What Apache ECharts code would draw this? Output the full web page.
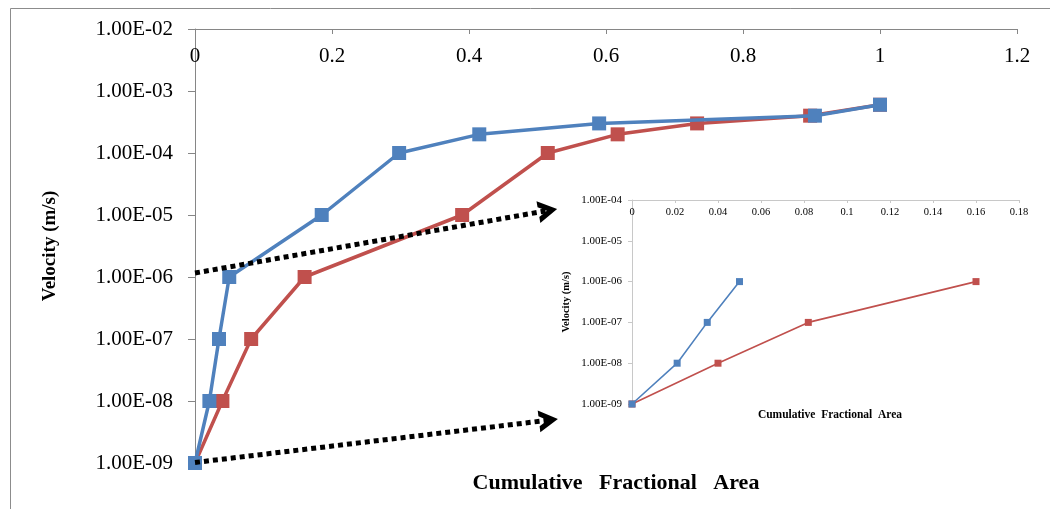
<!DOCTYPE html>
<html>
<head>
<meta charset="utf-8">
<script src="https://cdn.jsdelivr.net/npm/echarts@6/dist/echarts.min.js"></script>
<style>
  html, body { margin: 0; padding: 0; background: #ffffff; }
  #chart { width: 1050px; height: 509px; }
</style>
</head>
<body>
<div id="chart"></div>
<script>
// Cumulative fractional area reached at each velocity threshold (two cases)
const blueArea     = [0, 0.021, 0.035, 0.05, 0.185, 0.298, 0.415, 0.59, 0.905, 1.0];
const blueVelocity = [1e-9, 1e-8, 1e-7, 1e-6, 1e-5, 1e-4, 2e-4, 3e-4, 4e-4, 6e-4];

const redArea      = [0, 0.04, 0.082, 0.16, 0.39, 0.515, 0.617, 0.733, 0.898, 1.0];
const redVelocity  = [1e-9, 1e-8, 1e-7, 1e-6, 1e-5, 1e-4, 2e-4, 3e-4, 4e-4, 6e-4];

// Low-velocity detail (inset): first four points of each case
const insetBlueArea = [0, 0.021, 0.035, 0.05];
const insetBlueVel  = [1e-9, 1e-8, 1e-7, 1e-6];
const insetRedArea  = [0, 0.04, 0.082, 0.16];
const insetRedVel   = [1e-9, 1e-8, 1e-7, 1e-6];

// Velocity tick labels, from 1e-9 upward
const velocityTicks = ['1.00E-09', '1.00E-08', '1.00E-07', '1.00E-06',
                       '1.00E-05', '1.00E-04', '1.00E-03', '1.00E-02'];

// Dotted pointers from the main plot to the inset: [start, end] in data units
const pointerArrows = [
  [[0, 1.16e-6], [0.515, 1.18e-5]],
  [[0, 1.02e-9], [0.516, 4.9e-9]]
];

const xTitle = 'Cumulative   Fractional   Area';
const insetXTitle = 'Cumulative  Fractional  Area';
const yTitle = 'Velocity (m/s)';

const BLUE = '#4F81BD';
const RED = '#C0504D';
const SERIF = '"Liberation Serif", "Times New Roman", serif';

const pair = (xs, ys) => xs.map((x, i) => [x, ys[i]]);
const velLabel = v => velocityTicks[Math.round(Math.log10(v)) + 9];

// Open chevron arrow head pointing "up" (rotated along the line by ECharts)
const chevron = 'path://M0,19 L11,0 L22,19 L16,19 L11,10.4 L6,19 Z';

const chart = echarts.init(document.getElementById('chart'));

chart.setOption({
  backgroundColor: '#ffffff',
  animation: false,
  title: [
    {
      text: xTitle,
      left: 611, top: 467,
      textAlign: 'center',
      textStyle: { fontFamily: SERIF, fontWeight: 'bold', fontSize: 22, color: '#000' }
    },
    {
      text: insetXTitle,
      left: 825, top: 404,
      textAlign: 'center',
      textStyle: { fontFamily: SERIF, fontWeight: 'bold', fontSize: 11.5, color: '#000' }
    }
  ],
  graphic: [
    {
      type: 'rect',
      shape: { x: 10.5, y: 8.5, width: 1200, height: 600 },
      style: { fill: null, stroke: '#8c8c8c', lineWidth: 1 },
      silent: true,
      z: -1
    }
  ],
  grid: [
    { left: 195, top: 29, right: 33, bottom: 46, outerBoundsMode: 'none' },
    { left: 632, top: 200, right: 31, bottom: 105, outerBoundsMode: 'none' }
  ],
  xAxis: [
    {
      gridIndex: 0, type: 'value', position: 'top',
      min: 0, max: 1.2, interval: 0.2,
      axisLine: { onZero: false, lineStyle: { color: '#868686', width: 1 } },
      axisTick: { inside: true, length: 5, lineStyle: { color: '#868686' } },
      axisLabel: { inside: true, margin: 17, fontFamily: SERIF, fontSize: 21, color: '#000' },
      splitLine: { show: false }
    },
    {
      gridIndex: 1, type: 'value', position: 'top',
      min: 0, max: 0.18, interval: 0.02,
      axisLine: { onZero: false, lineStyle: { color: '#c8c8c8', width: 1 } },
      axisTick: { inside: true, length: 3, lineStyle: { color: '#c8c8c8' } },
      axisLabel: { inside: true, margin: 7, fontFamily: SERIF, fontSize: 10.5, color: '#000' },
      splitLine: { show: false }
    }
  ],
  yAxis: [
    {
      gridIndex: 0, type: 'log', logBase: 10,
      min: 1e-9, max: 1e-2, splitNumber: 7,
      name: yTitle, nameLocation: 'middle', nameRotate: 90, nameGap: 135,
      nameTextStyle: { fontFamily: SERIF, fontWeight: 'bold', fontSize: 19, color: '#000' },
      axisLine: { show: true, lineStyle: { color: '#868686', width: 1 } },
      axisTick: { show: true, length: 7, lineStyle: { color: '#868686' } },
      axisLabel: { margin: 22, fontFamily: SERIF, fontSize: 21, color: '#000', formatter: velLabel },
      splitLine: { show: false }
    },
    {
      gridIndex: 1, type: 'log', logBase: 10,
      min: 1e-9, max: 1e-4, splitNumber: 5,
      name: yTitle, nameLocation: 'middle', nameRotate: 90, nameGap: 60,
      nameTextStyle: { fontFamily: SERIF, fontWeight: 'bold', fontSize: 10.5, color: '#000' },
      axisLine: { show: true, lineStyle: { color: '#c8c8c8', width: 1 } },
      axisTick: { show: true, length: 4, lineStyle: { color: '#c8c8c8' } },
      axisLabel: { margin: 10, fontFamily: SERIF, fontSize: 11, color: '#000', formatter: velLabel },
      splitLine: { show: false }
    }
  ],
  series: [
    {
      name: 'Red', type: 'line', xAxisIndex: 0, yAxisIndex: 0,
      data: pair(redArea, redVelocity),
      symbol: 'rect', symbolSize: 14,
      lineStyle: { color: RED, width: 3.5 },
      itemStyle: { color: RED },
      z: 2
    },
    {
      name: 'Blue', type: 'line', xAxisIndex: 0, yAxisIndex: 0,
      data: pair(blueArea, blueVelocity),
      symbol: 'rect', symbolSize: 14,
      lineStyle: { color: BLUE, width: 3.5 },
      itemStyle: { color: BLUE },
      z: 3,
      markLine: {
        silent: true,
        symbol: ['none', chevron],
        symbolSize: [22, 19],
        label: { show: false },
        lineStyle: { color: '#000', width: 5, type: [5, 4], opacity: 1 },
        itemStyle: { color: '#000' },
        data: pointerArrows.map(([a, b]) => [{ coord: a }, { coord: b }]),
        z: 5
      }
    },
    {
      name: 'Red inset', type: 'line', xAxisIndex: 1, yAxisIndex: 1,
      data: pair(insetRedArea, insetRedVel),
      symbol: 'rect', symbolSize: 7,
      lineStyle: { color: RED, width: 1.6 },
      itemStyle: { color: RED },
      z: 2
    },
    {
      name: 'Blue inset', type: 'line', xAxisIndex: 1, yAxisIndex: 1,
      data: pair(insetBlueArea, insetBlueVel),
      symbol: 'rect', symbolSize: 7,
      lineStyle: { color: BLUE, width: 1.6 },
      itemStyle: { color: BLUE },
      z: 3
    }
  ]
});
</script>
</body>
</html>
